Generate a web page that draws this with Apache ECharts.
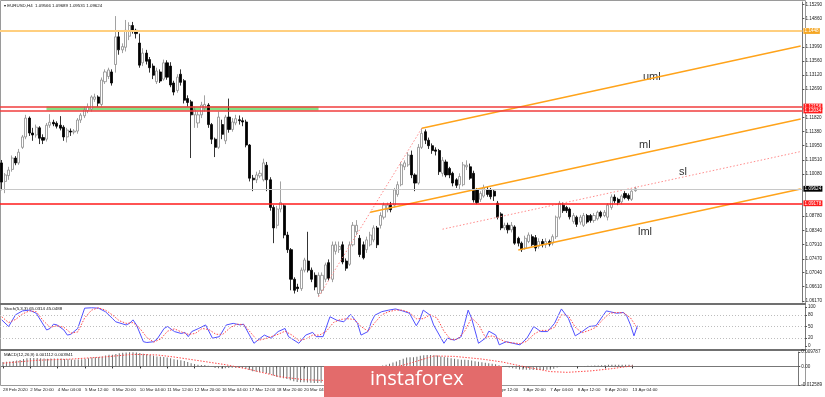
<!DOCTYPE html>
<html>
<head>
<meta charset="utf-8">
<script src="https://cdn.jsdelivr.net/npm/echarts@6/dist/echarts.min.js"></script>
<style>html,body{margin:0;padding:0;background:#fff}#main{width:825px;height:397px}</style>
</head>
<body>
<div id="main"></div>
<script>
// EURUSD H4 bars: [open, close, low, high]
var candles = [
[1.1042,1.0983,1.0958,1.1051],[1.0985,1.1005,1.0949,1.1011],[1.1003,1.1020,1.0990,1.1030],[1.1022,1.1057,1.1015,1.1065],
[1.1057,1.1042,1.1035,1.1063],[1.1042,1.1075,1.1036,1.1085],[1.1090,1.1122,1.1085,1.1128],[1.1122,1.1180,1.1115,1.1190],
[1.1180,1.1134,1.1125,1.1185],[1.1134,1.1128,1.1110,1.1150],[1.1128,1.1152,1.1120,1.1160],[1.1150,1.1118,1.1100,1.1155],
[1.1120,1.1112,1.1100,1.1130],[1.1115,1.1158,1.1108,1.1165],[1.1158,1.1167,1.1150,1.1192],[1.1167,1.1162,1.1155,1.1175],
[1.1164,1.1155,1.1148,1.1170],[1.1158,1.1149,1.1142,1.1186],[1.1152,1.1122,1.1110,1.1158],[1.1122,1.1143,1.1105,1.1150],
[1.1140,1.1137,1.1125,1.1148],[1.1137,1.1140,1.1130,1.1146],[1.1140,1.1174,1.1132,1.1180],[1.1174,1.1189,1.1165,1.1195],
[1.1187,1.1205,1.1180,1.1215],[1.1203,1.1214,1.1195,1.1225],[1.1208,1.1245,1.1200,1.1250],[1.1238,1.1245,1.1230,1.1255],
[1.1245,1.1226,1.1215,1.1250],[1.1222,1.1297,1.1215,1.1305],[1.1292,1.1322,1.1285,1.1330],[1.1308,1.1328,1.1300,1.1335],
[1.1322,1.1288,1.1280,1.1330],[1.1345,1.1430,1.1320,1.1494],[1.1430,1.1390,1.1375,1.1445],[1.1390,1.1400,1.1380,1.1410],
[1.1398,1.1450,1.1385,1.1482],[1.1432,1.1465,1.1420,1.1475],[1.1465,1.1450,1.1440,1.1476],[1.1450,1.1440,1.1425,1.1455],
[1.1411,1.1343,1.1335,1.1440],[1.1350,1.1380,1.1340,1.1395],[1.1380,1.1355,1.1345,1.1390],[1.1360,1.1335,1.1320,1.1368],
[1.1340,1.1312,1.1300,1.1348],[1.1292,1.1325,1.1285,1.1335],[1.1322,1.1294,1.1288,1.1330],[1.1300,1.1350,1.1295,1.1360],
[1.1350,1.1306,1.1298,1.1358],[1.1340,1.1282,1.1275,1.1352],[1.1288,1.1260,1.1250,1.1295],[1.1265,1.1306,1.1258,1.1315],
[1.1315,1.1290,1.1280,1.1330],[1.1295,1.1235,1.1225,1.1300],[1.1240,1.1228,1.1215,1.1250],[1.1230,1.1190,1.1057,1.1236],
[1.1190,1.1205,1.1150,1.1215],[1.1165,1.1190,1.1150,1.1200],[1.1190,1.1220,1.1180,1.1230],[1.1210,1.1222,1.1200,1.1250],
[1.1220,1.1160,1.1150,1.1226],[1.1160,1.1115,1.1100,1.1165],[1.1115,1.1090,1.1060,1.1120],[1.1090,1.1183,1.1085,1.1200],
[1.1160,1.1130,1.1115,1.1175],[1.1110,1.1183,1.1100,1.1190],[1.1183,1.1145,1.1135,1.1240],[1.1145,1.1168,1.1138,1.1180],
[1.1165,1.1178,1.1158,1.1190],[1.1175,1.1172,1.1160,1.1188],[1.1172,1.1168,1.1155,1.1182],[1.1168,1.1097,1.1090,1.1175],
[1.1097,1.0995,1.0985,1.1100],[1.0995,1.0990,1.0955,1.1005],[1.0990,1.1005,1.0980,1.1015],[1.1002,1.1010,1.0995,1.1020],
[1.0990,1.1042,1.0985,1.1055],[1.1035,1.0990,1.0955,1.1045],[1.0990,1.0905,1.0895,1.0998],[1.0905,1.0842,1.0795,1.0912],
[1.0850,1.0900,1.0840,1.0910],[1.0900,1.0920,1.0890,1.0985],[1.0910,1.0820,1.0810,1.0915],[1.0820,1.0775,1.0765,1.0830],
[1.0775,1.0684,1.0650,1.0780],[1.0684,1.0650,1.0640,1.0690],[1.0660,1.0655,1.0645,1.0670],[1.0655,1.0712,1.0648,1.0720],
[1.0712,1.0743,1.0705,1.0750],[1.0740,1.0712,1.0705,1.0830],[1.0712,1.0684,1.0675,1.0720],[1.0696,1.0660,1.0650,1.0705],
[1.0640,1.0696,1.0630,1.0705],[1.0650,1.0696,1.0640,1.0705],[1.0684,1.0728,1.0675,1.0735],[1.0735,1.0687,1.0680,1.0745],
[1.0684,1.0789,1.0675,1.0800],[1.0770,1.0790,1.0760,1.0800],[1.0775,1.0785,1.0765,1.0800],[1.0790,1.0737,1.0730,1.0800],
[1.0740,1.0718,1.0710,1.0748],[1.0730,1.0790,1.0725,1.0800],[1.0790,1.0850,1.0785,1.0860],[1.0830,1.0850,1.0820,1.0866],
[1.0810,1.0760,1.0752,1.0820],[1.0790,1.0750,1.0745,1.0800],[1.0775,1.0805,1.0765,1.0815],[1.0790,1.0820,1.0785,1.0830],
[1.0805,1.0842,1.0798,1.0850],[1.0842,1.0790,1.0780,1.0848],[1.0850,1.0880,1.0840,1.0890],[1.0875,1.0912,1.0868,1.0920],
[1.0898,1.0912,1.0890,1.0920],[1.0912,1.0898,1.0890,1.0922],[1.0912,1.0959,1.0905,1.0965],[1.0945,1.0975,1.0938,1.0985],
[1.0975,1.1036,1.0970,1.1045],[1.1030,1.1042,1.1020,1.1050],[1.1036,1.1066,1.1030,1.1075],[1.1066,1.1005,1.0995,1.1080],
[1.1005,1.0980,1.0955,1.1010],[1.0980,1.1090,1.0975,1.1100],[1.1090,1.1133,1.1085,1.1149],[1.1138,1.1112,1.1100,1.1145],
[1.1112,1.1095,1.1085,1.1120],[1.1095,1.1080,1.1070,1.1102],[1.1082,1.1078,1.1065,1.1090],[1.1080,1.1015,1.1005,1.1085],
[1.1010,1.1050,1.1000,1.1060],[1.1045,1.1005,1.0998,1.1052],[1.1025,1.1005,1.0995,1.1030],[1.1010,1.0980,1.0970,1.1015],
[1.0990,1.0973,1.0965,1.0995],[1.0975,1.1000,1.0960,1.1010],[1.0975,1.1036,1.0970,1.1045],[1.1030,1.1035,1.1020,1.1050],
[1.1030,1.0995,1.0990,1.1040],[1.1010,1.0928,1.0920,1.1018],[1.0960,1.0920,1.0915,1.0965],[1.0930,1.0948,1.0922,1.0955],
[1.0940,1.0965,1.0935,1.0975],[1.0960,1.0945,1.0938,1.0968],[1.0960,1.0938,1.0930,1.0965],[1.0955,1.0940,1.0925,1.0960],
[1.0918,1.0875,1.0868,1.0925],[1.0885,1.0842,1.0835,1.0890],[1.0842,1.0850,1.0835,1.0858],[1.0850,1.0836,1.0825,1.0858],
[1.0836,1.0850,1.0828,1.0860],[1.0845,1.0795,1.0790,1.0850],[1.0810,1.0795,1.0785,1.0815],[1.0795,1.0775,1.0768,1.0800],
[1.0780,1.0810,1.0775,1.0818],[1.0800,1.0820,1.0795,1.0828],[1.0815,1.0790,1.0785,1.0822],[1.0812,1.0780,1.0770,1.0820],
[1.0785,1.0800,1.0778,1.0810],[1.0800,1.0790,1.0782,1.0808],[1.0790,1.0800,1.0780,1.0810],[1.0800,1.0792,1.0785,1.0806],
[1.0795,1.0815,1.0788,1.0822],[1.0815,1.0875,1.0808,1.0880],[1.0875,1.0918,1.0868,1.0925],[1.0912,1.0895,1.0888,1.0920],
[1.0905,1.0895,1.0888,1.0910],[1.0900,1.0876,1.0868,1.0905],[1.0862,1.0880,1.0855,1.0888],[1.0875,1.0853,1.0845,1.0880],
[1.0860,1.0875,1.0852,1.0882],[1.0850,1.0880,1.0845,1.0888],[1.0880,1.0860,1.0855,1.0885],[1.0880,1.0865,1.0858,1.0885],
[1.0865,1.0880,1.0858,1.0888],[1.0870,1.0890,1.0865,1.0895],[1.0890,1.0878,1.0872,1.0895],[1.0880,1.0890,1.0875,1.0897],
[1.0875,1.0912,1.0865,1.0918],[1.0905,1.0937,1.0898,1.0945],[1.0937,1.0925,1.0918,1.0945],[1.0930,1.0920,1.0912,1.0935],
[1.0922,1.0940,1.0915,1.0945],[1.0948,1.0935,1.0930,1.0955],[1.0942,1.0932,1.0926,1.0948],[1.0930,1.0955,1.0925,1.0958],
[1.09566,1.09624,1.09531,1.09689]
];

var tickIdx = [0,8,16,24,32,40,48,56,64,72,80,88,96,104,112,120,128,136,144,152,160,168,176,184];
var tickText = ['28 Feb 2020','2 Mar 20:00','4 Mar 04:00','5 Mar 12:00','6 Mar 20:00','10 Mar 04:00','11 Mar 12:00',
  '12 Mar 20:00','16 Mar 04:00','17 Mar 12:00','18 Mar 20:00','20 Mar 04:00','23 Mar 12:00','24 Mar 20:00',
  '26 Mar 04:00','27 Mar 12:00','30 Mar 20:00','1 Apr 04:00','2 Apr 12:00','3 Apr 20:00','7 Apr 04:00',
  '8 Apr 12:00','9 Apr 20:00','13 Apr 04:00'];

var priceTicks = [1.15290,1.14860,1.13990,1.13560,1.13120,1.12690,1.11820,1.11380,1.10950,1.10510,1.10080,
  1.08780,1.08340,1.07910,1.07470,1.07040,1.06610,1.06170];

// drawn objects [bar index, price]
var swingLine = [[92,1.0630],[122,1.1149]];
var umlLine = [[122,1.1149],[232,1.1402]];
var mlLine = [[107,1.0890],[232,1.1177]];
var slLine = [[128,1.0838],[232,1.1077]];
var lmlLine = [[150,1.0774],[232,1.0962]];
var levelOrange = 1.14480;
var levelRedHi = 1.12156, levelRedLo = 1.12034, levelRed = 1.09178, lastPrice = 1.09624;
var zone = {from: 13, to: 92, top: 1.12156, bottom: 1.12034};

// Stochastic (5,3,3): [bar index, value]
var stochMain = [[0,67],[2,50],[4,80],[6,90],[8,92],[10,84],[13,41],[14,45],[15,56],[16,54],[18,41],[19,28],[20,30],
  [22,45],[23,71],[24,97],[26,98],[28,97],[30,88],[32,71],[33,62],[36,54],[37,58],[38,67],[39,54],[41,11],[42,9],
  [44,11],[45,18],[47,45],[48,50],[50,37],[52,32],[53,35],[54,24],[55,37],[57,45],[59,54],[61,20],[63,24],[65,54],
  [67,58],[69,54],[70,56],[73,7],[76,28],[78,20],[80,37],[82,45],[83,24],[86,7],[88,28],[90,35],[91,24],[93,24],
  [95,75],[97,66],[99,62],[101,81],[103,58],[104,28],[106,37],[107,62],[108,79],[110,88],[112,92],[114,95],[116,90],
  [118,84],[120,52],[121,67],[122,92],[124,79],[125,54],[128,7],[129,20],[131,15],[133,24],[134,58],[135,92],[136,71],
  [138,7],[140,20],[141,38],[143,28],[144,3],[146,11],[148,7],[150,3],[152,20],[154,50],[156,37],[158,37],[160,58],
  [162,95],[164,71],[166,26],[168,37],[170,50],[172,52],[175,90],[176,88],[178,84],[180,86],[181,75],[182,54],[183,26],[184,52]];
var stochSignal = [[0,75],[2,60],[4,68],[6,82],[8,90],[10,88],[12,65],[14,48],[16,52],[18,48],[20,33],[22,36],[24,72],
  [26,92],[28,98],[30,92],[32,80],[34,65],[36,58],[38,60],[40,45],[42,22],[44,10],[46,18],[48,38],[50,44],[52,36],
  [54,30],[56,32],[58,45],[60,42],[62,30],[64,30],[66,46],[68,56],[70,55],[72,35],[74,14],[76,18],[78,24],[80,30],
  [82,38],[84,28],[86,14],[88,18],[90,28],[92,28],[94,38],[96,60],[98,68],[100,70],[102,68],[104,50],[106,38],[108,60],
  [110,80],[112,88],[114,92],[116,92],[118,86],[120,70],[122,70],[124,80],[126,72],[128,38],[130,16],[132,18],[134,38],
  [136,72],[138,55],[140,22],[142,26],[144,18],[146,10],[148,8],[150,6],[152,12],[154,30],[156,40],[158,40],[160,48],
  [162,80],[164,78],[166,48],[168,34],[170,40],[172,48],[174,68],[176,84],[178,86],[180,85],[182,72],[184,45]];

// MACD (12,26,9)
var macdHist = [
  0.0030,0.0032,0.0034,0.0036,0.0040,0.0044,0.0050,0.0055,0.0058,0.0058,0.0057,0.0055,0.0053,0.0052,0.0053,
  0.0054,0.0054,0.0053,0.0050,0.0048,0.0047,0.0046,0.0047,0.0049,0.0052,0.0055,0.0060,0.0063,0.0064,0.0068,
  0.0074,0.0079,0.0080,0.0085,0.0090,0.0093,0.0094,0.0096,0.0097,0.0095,0.0091,0.0086,0.0082,0.0078,0.0073,
  0.0068,0.0066,0.0064,0.0060,0.0055,0.0049,0.0045,0.0042,0.0036,0.0030,0.0022,0.0016,0.0012,0.0010,0.0009,
  0.0004,-0.0003,-0.0010,-0.0012,-0.0014,-0.0012,-0.0010,-0.0009,-0.0009,-0.0010,-0.0011,-0.0016,-0.0025,-0.0032,-0.0036,
  -0.0039,-0.0040,-0.0044,-0.0052,-0.0062,-0.0070,-0.0075,-0.0080,-0.0086,-0.0094,-0.0101,-0.0106,-0.0108,-0.0108,-0.0109,
  -0.0110,-0.0112,-0.0112,-0.0110,-0.0106,-0.0102,-0.0094,-0.0086,-0.0080,-0.0075,-0.0068,-0.0058,-0.0048,-0.0040,-0.0036,
  -0.0032,-0.0026,-0.0020,-0.0014,-0.0010,-0.0002,0.0006,0.0012,0.0018,0.0026,0.0034,0.0044,0.0052,0.0060,0.0062,
  0.0062,0.0066,0.0072,0.0076,0.0078,0.0078,0.0076,0.0074,0.0068,0.0064,0.0060,0.0056,0.0052,0.0048,0.0046,
  0.0046,0.0044,0.0040,0.0035,0.0031,0.0028,0.0025,0.0022,0.0019,0.0014,0.0008,0.0002,-0.0004,-0.0008,-0.0012,
  -0.0016,-0.0020,-0.0022,-0.0022,-0.0023,-0.0024,-0.0024,-0.0024,-0.0024,-0.0023,-0.0022,-0.0016,-0.0008,-0.0004,-0.0001,
  0.0000,0.0001,0.0001,0.0002,0.0002,0.0003,0.0004,0.0005,0.0006,0.0007,0.0008,0.0010,0.0011,0.0012,0.0012,
  0.0012,0.0012,0.0011,0.0011,0.0011];
var macdSignal = [[0,0.0022],[10,0.0042],[20,0.0050],[30,0.0065],[38,0.0082],[45,0.0078],[50,0.0064],[57,0.0040],
  [65,0.0012],[72,-0.0020],[81,-0.0070],[88,-0.0090],[95,-0.0096],[100,-0.0085],[105,-0.0055],[112,-0.0020],
  [118,0.0015],[126,0.0071],[132,0.0068],[140,0.0050],[146,0.0030],[152,0.0000],[160,-0.0035],[165,-0.0040],
  [172,-0.0030],[178,-0.0015],[184,0.0004]];

var SLOTS = 233;
var cats = [];
for (var i = 0; i < SLOTS; i++) cats.push(String(i));

var FONT = 'Liberation Sans';
var small = {fontFamily: FONT, fontSize: 4.6, color: '#222'};

function showTick(index) { return tickIdx.indexOf(index) >= 0; }

function boxLabel(bg, fg) {
  return {show: true, position: 'end', distance: 1, formatter: '{c}', fontFamily: FONT, fontSize: 4.6,
    color: fg, backgroundColor: bg, padding: [0.6, 1.2, 0.2, 1.2]};
}
function hLine(v, color, width, label) {
  return {yAxis: v, lineStyle: {color: color, width: width, type: 'solid'}, label: label || {show: false}};
}

var chartDom = document.getElementById('main');
var myChart = echarts.init(chartDom);
var option = {
  animation: false,
  backgroundColor: '#fff',
  grid: [
    {left: 0, top: 2, width: 805, height: 300},
    {left: 0, top: 307, width: 805, height: 39},
    {left: 0, top: 352, width: 805, height: 33}
  ],
  xAxis: [0, 1, 2].map(function (g) {
    return {
      type: 'category', gridIndex: g, data: cats, boundaryGap: true,
      axisLine: {show: g === 2, lineStyle: {color: '#777', width: 1}},
      axisTick: {show: g === 2, alignWithLabel: true, interval: showTick, length: 2, lineStyle: {color: '#333'}},
      axisLabel: {show: g === 2, interval: showTick, align: 'left', margin: 3, fontFamily: FONT, fontSize: 4.4, color: '#222',
        formatter: function (v, i) { var k = tickIdx.indexOf(i); return k >= 0 ? tickText[k] : ''; }},
      splitLine: {show: false}
    };
  }),
  yAxis: [
    {type: 'value', gridIndex: 0, position: 'right', min: 1.06139, max: 1.15373, scale: true,
      axisLine: {show: true, lineStyle: {color: '#777'}},
      axisTick: {show: true, length: 2, customValues: priceTicks, lineStyle: {color: '#555'}},
      axisLabel: Object.assign({customValues: priceTicks, margin: 3, formatter: function (v) { return v.toFixed(5); }}, small),
      splitLine: {show: false}},
    {type: 'value', gridIndex: 1, position: 'right', min: 0, max: 100,
      axisLine: {show: true, lineStyle: {color: '#777'}},
      axisTick: {show: true, length: 2, customValues: [100, 80, 50, 20, 0], lineStyle: {color: '#555'}},
      axisLabel: Object.assign({customValues: [100, 80, 50, 20, 0], margin: 3}, small),
      splitLine: {show: false}},
    {type: 'value', gridIndex: 2, position: 'right', min: -0.012589, max: 0.009787,
      axisLine: {show: true, lineStyle: {color: '#777'}},
      axisTick: {show: true, length: 2, customValues: [0.009787, 0, -0.012589], lineStyle: {color: '#555'}},
      axisLabel: Object.assign({customValues: [0.009787, 0, -0.012589], margin: 3,
        formatter: function (v) { return v === 0 ? '0.00' : v.toFixed(6); }}, small),
      splitLine: {show: false}}
  ],
  series: [
    // green zone between the two resistance lines
    {type: 'line', xAxisIndex: 0, yAxisIndex: 0, data: [], silent: true,
      markArea: {silent: true, precision: 5, itemStyle: {color: '#84e184', opacity: 1},
        data: [[{xAxis: cats[zone.from], yAxis: zone.top}, {xAxis: cats[zone.to], yAxis: zone.bottom}]]}},
    {
      name: 'EURUSD', type: 'candlestick', xAxisIndex: 0, yAxisIndex: 0, data: candles, barWidth: 2.6, z: 3,
      itemStyle: {color: '#ffffff', color0: '#000000', borderColor: '#8a8a8a', borderColor0: '#000000', borderWidth: 0.8},
      markLine: {silent: true, symbol: ['none', 'none'], animation: false, precision: 5,
        data: [
          hLine(levelOrange, '#ffcf7f', 2, boxLabel('#f5a623', '#fff')),
          hLine(levelRedHi, '#f03c3c', 1.5, boxLabel('#ff1a1a', '#fff')),
          hLine(levelRedLo, '#f03c3c', 1.5, boxLabel('#ff1a1a', '#fff')),
          hLine(lastPrice, '#c8c8c8', 1, boxLabel('#000', '#fff')),
          hLine(levelRed, '#ff1a1a', 1.5, boxLabel('#ff1a1a', '#fff'))
        ]}
    },
    {type: 'line', xAxisIndex: 0, yAxisIndex: 0, data: swingLine, symbol: 'none', silent: true, z: 4,
      lineStyle: {color: '#ff8c8c', width: 1, type: [1.5, 2]}},
    {type: 'line', xAxisIndex: 0, yAxisIndex: 0, data: umlLine, symbol: 'none', silent: true, z: 4,
      lineStyle: {color: '#ffa31a', width: 1.5}},
    {type: 'line', xAxisIndex: 0, yAxisIndex: 0, data: mlLine, symbol: 'none', silent: true, z: 4,
      lineStyle: {color: '#ffa31a', width: 1.5}},
    {type: 'line', xAxisIndex: 0, yAxisIndex: 0, data: lmlLine, symbol: 'none', silent: true, z: 4,
      lineStyle: {color: '#ffa31a', width: 1.5}},
    {type: 'line', xAxisIndex: 0, yAxisIndex: 0, data: slLine, symbol: 'none', silent: true, z: 4,
      lineStyle: {color: '#ff8c8c', width: 1, type: [1.5, 2]}},
    {
      name: 'Stoch', type: 'line', xAxisIndex: 1, yAxisIndex: 1, data: stochMain, symbol: 'none', silent: true,
      lineStyle: {color: '#5050ff', width: 1},
      markLine: {silent: true, symbol: ['none', 'none'], label: {show: false},
        lineStyle: {color: '#bdbdbd', width: 1, type: [1, 2]},
        data: [{yAxis: 80}, {yAxis: 50}, {yAxis: 20}]}
    },
    {type: 'line', xAxisIndex: 1, yAxisIndex: 1, data: stochSignal, symbol: 'none', silent: true,
      lineStyle: {color: '#ff4a4a', width: 1, type: [1.5, 1.5]}},
    {name: 'MACD', type: 'bar', xAxisIndex: 2, yAxisIndex: 2, data: macdHist, barWidth: 1, silent: true,
      itemStyle: {color: '#6e6e6e'}},
    {type: 'line', xAxisIndex: 2, yAxisIndex: 2, data: macdSignal, symbol: 'none', silent: true,
      lineStyle: {color: '#ff4a4a', width: 1, type: [1.5, 1.5]}}
  ],
  graphic: [
    {type: 'rect', silent: true, shape: {x: 0.5, y: 0.5, width: 805, height: 385}, style: {fill: 'none', stroke: '#9a9a9a', lineWidth: 1}},
    {type: 'rect', silent: true, shape: {x: 0, y: 303, width: 806, height: 2}, style: {fill: '#707070'}},
    {type: 'rect', silent: true, shape: {x: 0, y: 349, width: 806, height: 2}, style: {fill: '#707070'}},
    {type: 'text', silent: true, left: 4, top: 4, style: {text: '\u25BE EURUSD,H4  1.09566 1.09689 1.09531 1.09624', fontFamily: FONT, fontSize: 4.4, fill: '#111'}},
    {type: 'text', silent: true, left: 4, top: 307, style: {text: 'Stoch(5,3,3) 65.0314 45.0488', fontFamily: FONT, fontSize: 4.4, fill: '#111'}},
    {type: 'text', silent: true, left: 4, top: 353, style: {text: 'MACD(12,26,9) 0.001112 0.003941', fontFamily: FONT, fontSize: 4.4, fill: '#111'}},
    {type: 'text', silent: true, left: 643, top: 71, style: {text: 'uml', fontFamily: FONT, fontSize: 11, fill: '#333'}},
    {type: 'text', silent: true, left: 639, top: 139, style: {text: 'ml', fontFamily: FONT, fontSize: 11, fill: '#333'}},
    {type: 'text', silent: true, left: 679, top: 166, style: {text: 'sl', fontFamily: FONT, fontSize: 11, fill: '#333'}},
    {type: 'text', silent: true, left: 638, top: 226, style: {text: 'lml', fontFamily: FONT, fontSize: 11, fill: '#333'}},
    {type: 'rect', silent: true, z: 100, shape: {x: 324, y: 366, width: 178, height: 31}, style: {fill: '#e36b6b'}},
    {type: 'text', silent: true, z: 101, left: 370, top: 369, style: {text: 'instaforex', fontFamily: 'Open Sans', fontSize: 20, fill: '#ffffff'}}
  ]
};
myChart.setOption(option);
</script>
</body>
</html>
